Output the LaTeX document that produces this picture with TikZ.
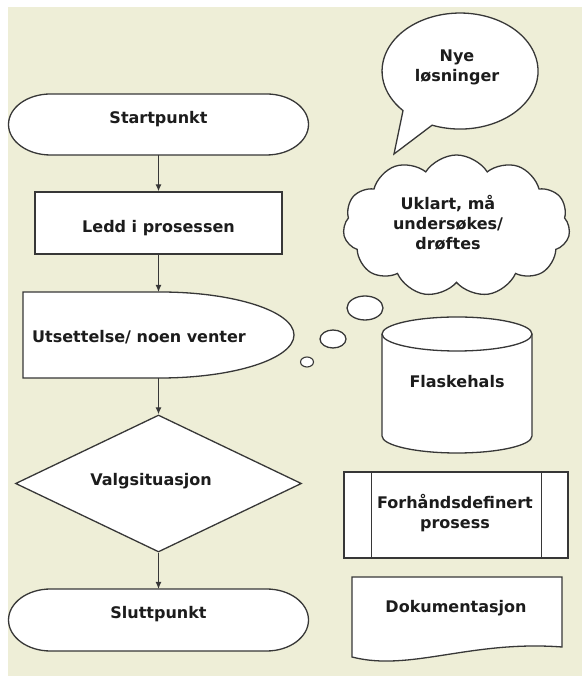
\documentclass[tikz,border=0pt]{standalone}
\usepackage{fontspec}
\setmainfont{DejaVu Sans}
\usetikzlibrary{shapes.geometric,shapes.symbols,arrows.meta}
\definecolor{bg}{RGB}{238,238,215}
\definecolor{ln}{RGB}{55,55,55}
\definecolor{tx}{RGB}{28,28,28}
\begin{document}
\begin{tikzpicture}[x=1pt,y=1pt,
  outl/.style={draw=ln, line width=1.3pt, fill=white},
  holder/.style={inner sep=0pt, outer sep=0pt},
  lbl/.style={font=\bfseries\fontsize{16}{20}\selectfont, text=tx, align=center, inner sep=0pt},
  flow/.style={draw=ln, line width=1.2pt, -{Latex[length=7pt,width=6pt]}}]

\useasboundingbox (0,0) rectangle (582,676);
\fill[white] (0,0) rectangle (582,676);
\fill[bg] (8,0) rectangle (582,669);

% ---------- left column ----------
% Startpunkt (terminator)
\node[holder, minimum width=300pt, minimum height=61pt] (start) at (158.5,551.5) {};
\draw[outl] ([xshift=42pt]start.north west) -- ([xshift=-42pt]start.north east)
  arc[start angle=90,end angle=-90,x radius=42pt,y radius=30.5pt]
  -- ([xshift=42pt]start.south west)
  arc[start angle=270,end angle=90,x radius=42pt,y radius=30.5pt] -- cycle;
\node[lbl] (startT) at (158.5,557) {Startpunkt};

% Ledd i prosessen (process)
\node[outl, minimum width=247pt, minimum height=62pt] (ledd) at (158.5,453) {};
\node[lbl] (leddT) at (158.5,448) {Ledd i prosessen};

% Utsettelse (delay)
\node[holder, minimum width=271pt, minimum height=86pt] (delay) at (158.5,341) {};
\draw[outl] (delay.north west) -- ++(137,0)
  arc[start angle=90,end angle=-90,x radius=134pt,y radius=43pt]
  -- (delay.south west) -- cycle;
\node[lbl, anchor=west] (delayT) at (32,339) {Utsettelse/ noen venter};

% Valgsituasjon (decision)
\node[outl, diamond, inner sep=0pt, minimum width=286pt, minimum height=137pt] (valg) at (158.5,192.5) {};
\node[lbl] (valgT) at (151,195) {Valgsituasjon};

% Sluttpunkt (terminator)
\node[holder, minimum width=300pt, minimum height=62pt] (slutt) at (158.5,56) {};
\draw[outl] ([xshift=42pt]slutt.north west) -- ([xshift=-42pt]slutt.north east)
  arc[start angle=90,end angle=-90,x radius=42pt,y radius=31pt]
  -- ([xshift=42pt]slutt.south west)
  arc[start angle=270,end angle=90,x radius=42pt,y radius=31pt] -- cycle;
\node[lbl] (sluttT) at (158.5,62) {Sluttpunkt};

% connectors
\draw[flow] (start) -- (ledd);
\draw[flow] (ledd) -- (delay);
\draw[flow] (delay) -- (valg);
\draw[flow] (valg) -- (slutt);

% ---------- right column ----------
% speech bubble
\draw[outl] (432.1,550.8) arc[start angle=249,end angle=583,x radius=78pt,y radius=58pt]
  -- (394,522) -- cycle;
\node[lbl] (nye) at (457,609) {Nye\\løsninger};

% cloud
\node[outl, cloud, cloud puffs=11, cloud puff arc=115, inner sep=0pt,
      minimum width=227pt, minimum height=142pt] (sky) at (456.5,450) {};
\node[lbl] (skyT) at (448,453) {Uklart, må\\undersøkes/\\drøftes};

% thought bubbles
\node[outl, ellipse, inner sep=0pt, minimum width=36pt, minimum height=24pt] (th1) at (365,368) {};
\node[outl, ellipse, inner sep=0pt, minimum width=26pt, minimum height=18pt] (th2) at (333,337) {};
\node[outl, ellipse, inner sep=0pt, line width=1.1pt, minimum width=13pt, minimum height=10pt] (th3) at (307,314) {};

% Flaskehals (cylinder)
\draw[outl] (382,342) -- (382,240)
  arc[start angle=180,end angle=360,x radius=75pt,y radius=17pt]
  -- (532,342)
  arc[start angle=0,end angle=180,x radius=75pt,y radius=17pt] -- cycle;
\draw[draw=ln, line width=1.3pt] (382,342) arc[start angle=180,end angle=360,x radius=75pt,y radius=17pt];
\node[lbl] (flaske) at (457,294) {Flaskehals};

% Forhåndsdefinert prosess
\node[outl, minimum width=224pt, minimum height=86pt] (pred) at (456,161) {};
\draw[draw=ln, line width=1.3pt] ([xshift=28pt]pred.north west) -- ([xshift=28pt]pred.south west);
\draw[draw=ln, line width=1.3pt] ([xshift=-27pt]pred.north east) -- ([xshift=-27pt]pred.south east);
\node[lbl] (predT) at (455,163) {Forhåndsdefinert\\prosess};

% Dokumentasjon (document)
\draw[outl] (352,99) -- (562,99) -- (562,29)
  .. controls (470,36) and (410,4) .. (352,19) -- cycle;
\node[lbl] (dok) at (456,68) {Dokumentasjon};
\end{tikzpicture}
\end{document}
